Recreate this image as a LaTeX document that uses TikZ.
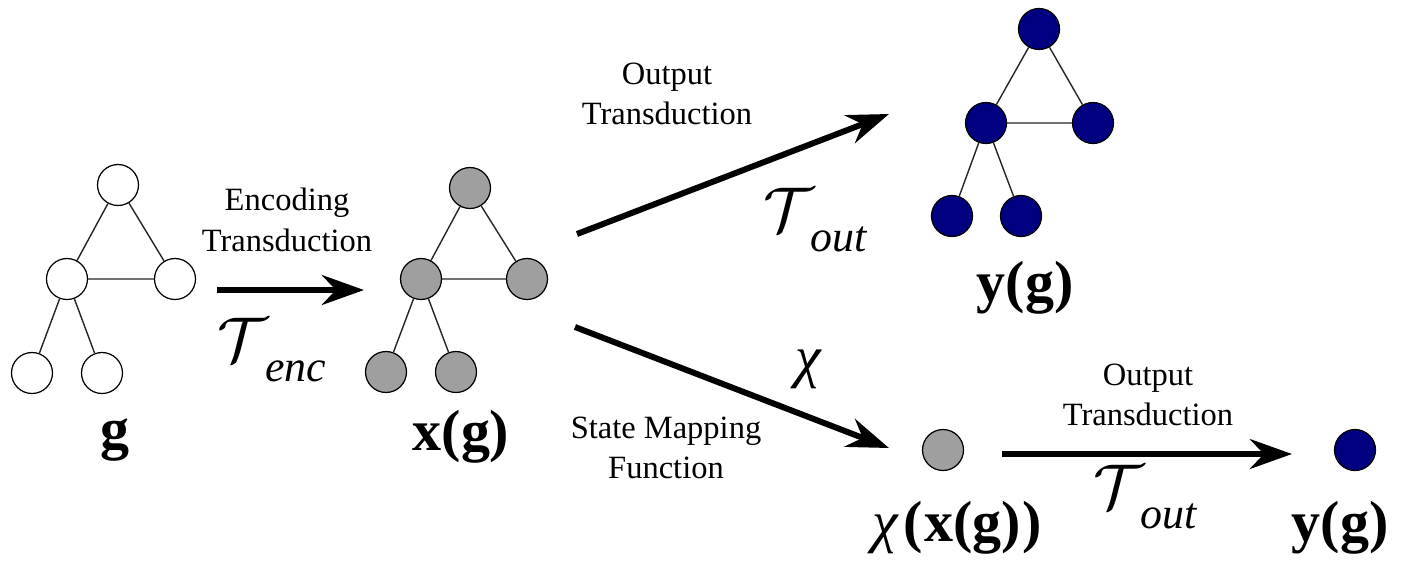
\RequirePackage{fix-cm}
\documentclass[tikz,border=0pt]{standalone}
\usepackage{fontspec}
\setmainfont{Liberation Serif}
\usetikzlibrary{arrows.meta}
\newcommand{\calT}[1]{$\mathcal{T}$\kern-0.05em\raisebox{-0.32em}{\fontsize{25}{27}\selectfont\itshape #1}}
\begin{document}
\begin{tikzpicture}[x=0.02cm,y=-0.02cm,
  vtx/.style={circle,draw=black,line width=0.7pt,minimum size=0.82cm,inner sep=0pt},
  wvtx/.style={vtx,fill=white},
  gvtx/.style={vtx,fill=gray!75},
  bvtx/.style={vtx,fill=blue!50!black},
  edge/.style={line width=0.8pt,black!85},
  bigarrow/.style={line width=3.4pt,-{Stealth[length=24pt,width=17pt,inset=8pt]}},
  small/.style={font=\fontsize{18.5}{21}\selectfont,align=center,inner sep=0pt},
  big/.style={font=\fontsize{33}{36}\selectfont,inner sep=0pt},
  sym/.style={font=\fontsize{36}{40}\selectfont,inner sep=0pt}]
\useasboundingbox (0,0) rectangle (1412,562);
% graph g
\node[wvtx] (g1) at (118,185) {};
\node[wvtx] (g2) at (67,279) {};
\node[wvtx] (g3) at (175,279) {};
\node[wvtx] (g4) at (32,373) {};
\node[wvtx] (g5) at (102,373) {};
\draw[edge] (g1)--(g2) (g1)--(g3) (g2)--(g3) (g2)--(g4) (g2)--(g5);
\node[big] (lg) at (115,440) {\textbf{g}};
% graph x(g)
\node[gvtx] (x1) at (470,188) {};
\node[gvtx] (x2) at (421,279) {};
\node[gvtx] (x3) at (527,279) {};
\node[gvtx] (x4) at (386,372) {};
\node[gvtx] (x5) at (456,372) {};
\draw[edge] (x1)--(x2) (x1)--(x3) (x2)--(x3) (x2)--(x4) (x2)--(x5);
\node[big] (lx) at (461,437) {\textbf{x(g)}};
% graph y(g)
\node[bvtx] (y1) at (1039,29) {};
\node[bvtx] (y2) at (986,123) {};
\node[bvtx] (y3) at (1093,123) {};
\node[bvtx] (y4) at (952,216) {};
\node[bvtx] (y5) at (1021,216) {};
\draw[edge] (y1)--(y2) (y1)--(y3) (y2)--(y3) (y2)--(y4) (y2)--(y5);
\node[big] (ly) at (1025,288) {\textbf{y(g)}};
% single nodes
\node[gvtx] (s1) at (943,450) {};
\node[bvtx] (s2) at (1355,450) {};
\node[big] (ls1) at (957,528) {\textit{χ}\kern0.08em\textbf{(\kern0.03em x(g)\kern0.03em)}};
\node[big] (ls2) at (1340,528) {\textbf{y(g)}};
% arrows
\coordinate (a1s) at (217,290); \coordinate (a1e) at (364,290);
\coordinate (a2s) at (577,234); \coordinate (a2e) at (889,114);
\coordinate (a3s) at (575,327); \coordinate (a3e) at (889,448);
\coordinate (a4s) at (1002,454); \coordinate (a4e) at (1292,454);
\draw[bigarrow] (a1s) -- (a1e);
\draw[bigarrow] (a2s) -- (a2e);
\draw[bigarrow] (a3s) -- (a3e);
\draw[bigarrow] (a4s) -- (a4e);
% labels
\node[small] (t1) at (287,220) {Encoding\\[2pt]Transduction};
\node[small] (t2) at (667,94) {Output\\[2pt]Transduction};
\node[small] (t3) at (666,448) {State Mapping\\[2pt]Function};
\node[small] (t4) at (1148,395) {Output\\[2pt]Transduction};
\node[sym] (m1) at (272,350) {\calT{enc}};
\node[sym] (m2) at (815,220) {\calT{out}};
\node[big] (m3) at (809,369) {\textit{χ}};
\node[sym] (m4) at (1145,497) {\calT{out}};
\end{tikzpicture}
\end{document}
